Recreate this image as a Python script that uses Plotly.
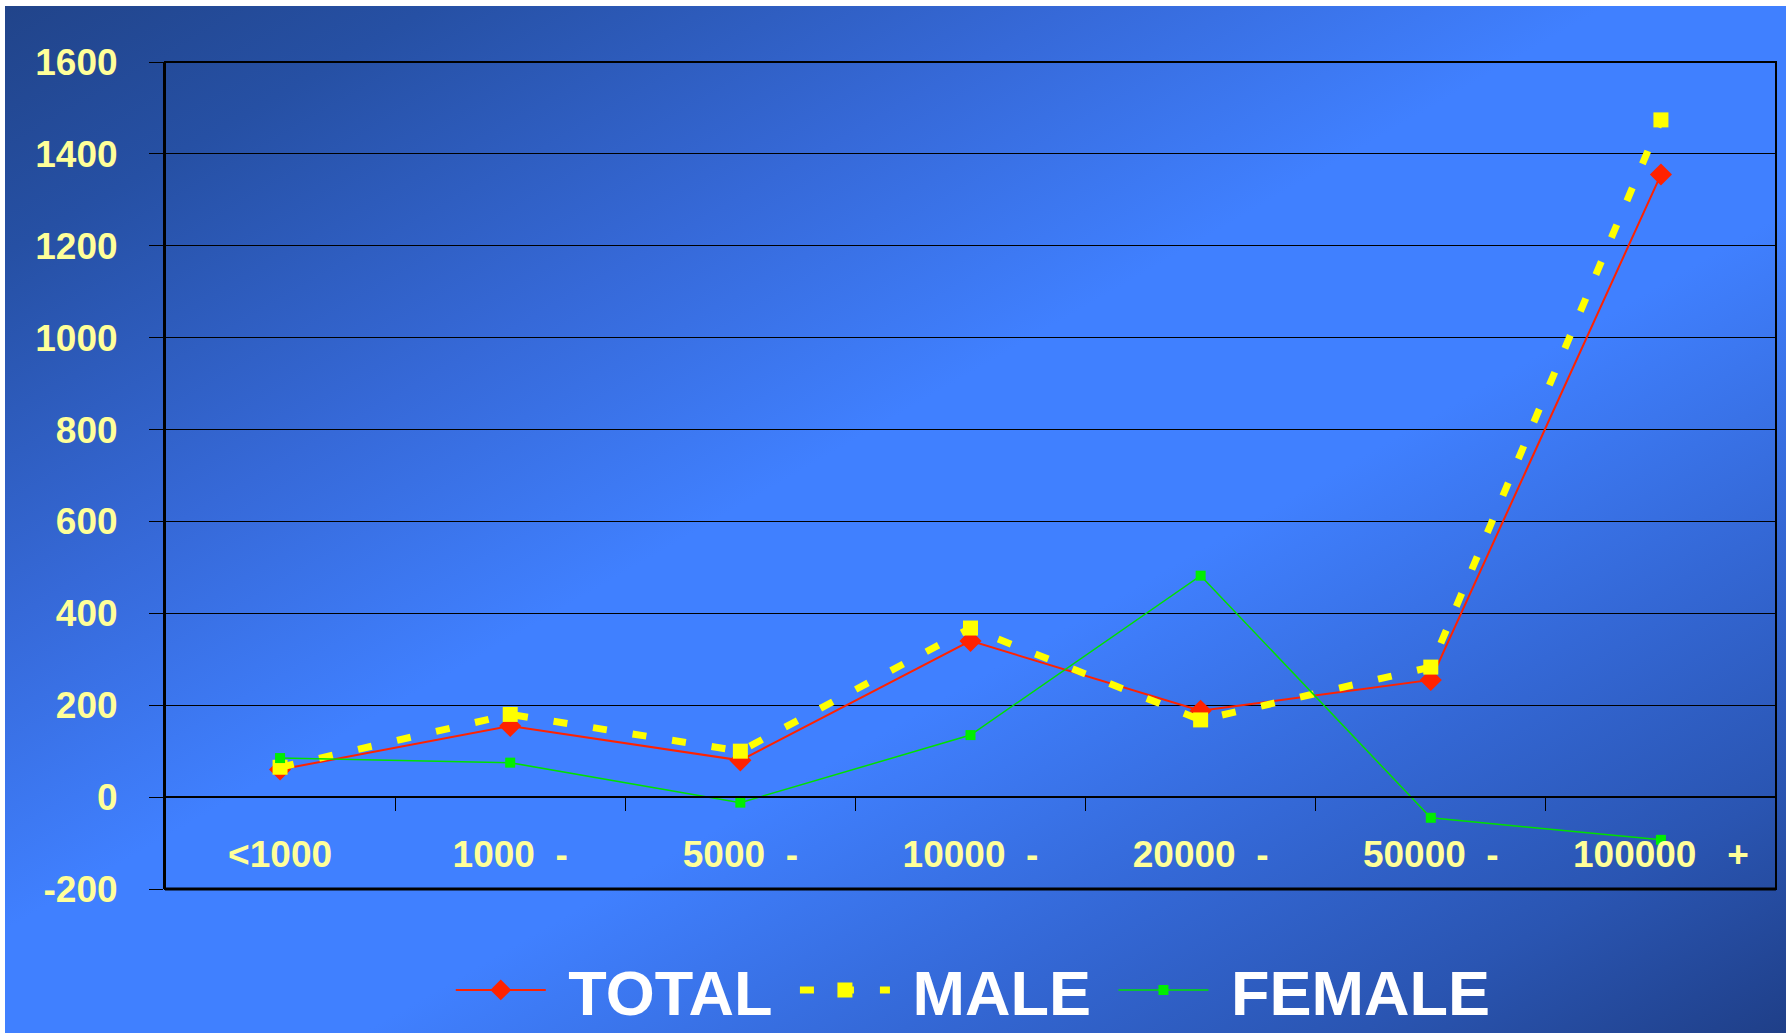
import base64
import plotly.graph_objects as go

# data
categories = ["<1000", "1000  -", "5000  -", "10000  -", "20000  -", "50000  -", "100000   +"]
total = [60, 155, 80, 340, 188, 255, 1355]
male = [65, 180, 100, 368, 168, 283, 1474]
female = [85, 75, -12, 135, 482, -45, -93]
y_ticks = [-200, 0, 200, 400, 600, 800, 1000, 1200, 1400, 1600]

W, H = 1786, 1033
ML, MR, MT, MB = 165, 10, 62, 144
PW, PH = W - ML - MR, H - MT - MB

LABEL_FONT = dict(family="Arial", size=37, color="#ffff99", weight="bold")

# diagonal blue background (dark top-left -> bright middle -> dark bottom-right)
stops = [(0.0, "#21448a"), (0.12, "#2650a4"), (0.3, "#3669d8"), (0.45, "#4080ff"),
         (0.6, "#4080ff"), (0.75, "#3468d6"), (0.88, "#2a55b2"), (1.0, "#1f3f88")]
svg = ('<svg xmlns="http://www.w3.org/2000/svg" width="%d" height="%d">'
       '<defs><linearGradient id="g" x1="0" y1="0" x2="1" y2="1">' % (W, H)
       + "".join('<stop offset="%s" stop-color="%s"/>' % s for s in stops)
       + '</linearGradient></defs><rect width="100%" height="100%" fill="url(#g)"/></svg>')
bg_src = "data:image/svg+xml;base64," + base64.b64encode(svg.encode()).decode()

labels = [c.replace(" ", "\u00a0") for c in categories]


def legend_name(s):
    # a little padding around legend text, like the original
    return "\u00a0" + s + "\u00a0"


fig = go.Figure()
fig.add_trace(go.Scatter(
    x=labels, y=total, name=legend_name("TOTAL"), mode="lines+markers",
    line=dict(color="#ff2200", width=2),
    marker=dict(symbol="diamond", size=17, color="#ff2200")))
fig.add_trace(go.Scatter(
    x=labels, y=male, name=legend_name("MALE"), mode="lines+markers",
    line=dict(color="#ffff00", width=7, dash="14px,26px"),
    marker=dict(symbol="square", size=15, color="#ffff00")))
fig.add_trace(go.Scatter(
    x=labels, y=female, name=legend_name("FEMALE"), mode="lines+markers",
    line=dict(color="#00e000", width=1.5),
    marker=dict(symbol="square", size=10, color="#00ee00")))

fig.update_layout(
    width=W, height=H,
    margin=dict(l=ML, r=MR, t=MT, b=MB, autoexpand=False),
    paper_bgcolor="white",
    plot_bgcolor="rgba(0,0,0,0)",
    images=[dict(source=bg_src, xref="paper", yref="paper",
                 x=(5 - ML) / PW, y=(H - MB - 6) / PH,
                 sizex=(W - 5) / PW, sizey=(H - 6) / PH,
                 xanchor="left", yanchor="top", sizing="stretch", layer="below")],
    xaxis=dict(
        type="category", range=[-0.5, 6.5],
        anchor="free", position=200 / 1800,
        showgrid=False, showline=True, linecolor="black", linewidth=1.5,
        ticks="outside", tickson="boundaries", ticklen=13, tickcolor="black",
        tickfont=LABEL_FONT, ticklabelstandoff=25),
    yaxis=dict(
        range=[-200, 1600], tickvals=y_ticks, ticktext=[str(v) for v in y_ticks],
        showgrid=True, gridcolor="black", gridwidth=1,
        zeroline=True, zerolinecolor="black", zerolinewidth=1.5,
        showline=True, linecolor="black", linewidth=2,
        ticks="outside", ticklen=14, tickcolor="black",
        tickfont=LABEL_FONT, ticklabelstandoff=24),
    legend=dict(
        orientation="h", x=0.507, xanchor="center", y=-(990 - (H - MB)) / PH, yanchor="middle",
        font=dict(family="Arial", size=63, color="white", weight="bold"),
        bgcolor="rgba(0,0,0,0)", itemwidth=90),
    shapes=[
        dict(type="rect", xref="paper", yref="paper", x0=0, x1=1, y0=0, y1=1,
             line=dict(color="black", width=2)),
        dict(type="line", xref="paper", yref="paper", x0=0, x1=1, y0=0, y1=0,
             line=dict(color="black", width=3)),
    ],
)

fig.write_html("out.html", config={"displayModeBar": False},
               post_script="document.body.style.margin = '0';")
